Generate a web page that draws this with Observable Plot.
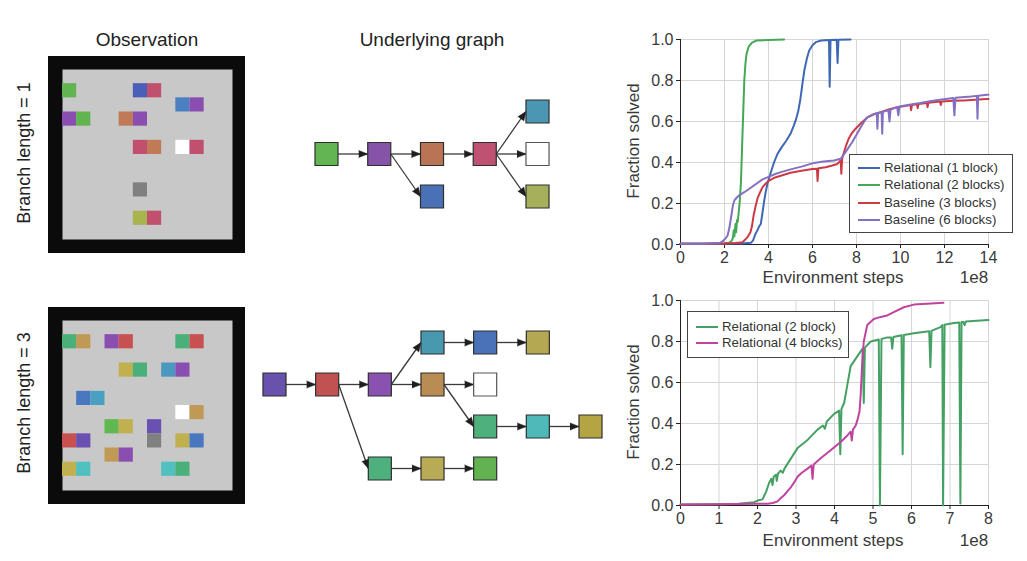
<!DOCTYPE html>
<html><head><meta charset="utf-8">
<script src="https://cdn.jsdelivr.net/npm/d3@7"></script>
<script src="https://cdn.jsdelivr.net/npm/@observablehq/plot@0.6"></script>
<style>
body{margin:0;background:#fff;font-family:"Liberation Sans",Arial,sans-serif;}
#root{position:relative;width:1027px;height:561px;overflow:hidden;background:#fff;}
.box{position:absolute;}
.box svg{max-width:none;}
.t{position:absolute;white-space:nowrap;color:#222;line-height:1;}
.rot{transform:translate(-50%,-50%) rotate(-90deg);}
.ctr{transform:translate(-50%,-50%);}
.legend{position:absolute;border:1.3px solid #444;background:#fff;box-sizing:border-box;font-size:13.3px;color:#333;}
.lrow{position:absolute;left:0;height:16px;line-height:16px;white-space:nowrap;}
.sw{position:absolute;height:2px;top:7px;}
.ltx{position:absolute;top:0;}
</style></head>
<body><div id="root"></div>
<script>
// ---------- Observation grids (col, row, colour) ----------
const obsCells1 = [
  [0,1,"#62b450"],[5,1,"#4a5fb8"],[6,1,"#c0506e"],[8,2,"#4a80c0"],[9,2,"#8a4db0"],
  [0,3,"#8a4db0"],[1,3,"#62b450"],[4,3,"#c07a55"],[5,3,"#8a4db0"],
  [5,5,"#c0506e"],[6,5,"#c07a55"],[8,5,"#ffffff"],[9,5,"#c0506e"],
  [5,8,"#808080"],[5,10,"#a8b44e"],[6,10,"#c0506e"]
];
const obsCells2 = [
  [0,1,"#48b078"],[1,1,"#c09a55"],[3,1,"#8a4db0"],[4,1,"#c85050"],[8,1,"#48b078"],[9,1,"#c85050"],
  [4,3,"#c0b050"],[5,3,"#48b078"],[7,3,"#4a98c0"],[8,3,"#8a4db0"],
  [1,5,"#4a78c0"],[2,5,"#4aa0c0"],[8,6,"#ffffff"],[9,6,"#c09a55"],
  [3,7,"#60b850"],[4,7,"#c0b050"],[6,7,"#6a50b0"],
  [0,8,"#c85050"],[1,8,"#6a50b0"],[6,8,"#808080"],[8,8,"#c0b050"],[9,8,"#4a78c0"],
  [3,9,"#c09a55"],[4,9,"#8a4db0"],[0,10,"#c0b050"],[1,10,"#50c0c0"],[7,10,"#50c0c0"],[8,10,"#48b078"]
];

// ---------- Underlying graphs (id, layer, lane, colour) ----------
const graphNodes1 = [
  ["a",0,1,"#63b553"],["b",1,1,"#8553a8"],["c",2,1,"#b97455"],["d",2,2,"#4a70b5"],
  ["e",3,1,"#bf5173"],["f",4,0,"#4b96b2"],["g",4,1,"#ffffff"],["h",4,2,"#a6b05a"]
];
const graphEdges1 = [["a","b"],["b","c"],["b","d"],["c","e"],["e","f"],["e","g"],["e","h"]];
const graphNodes2 = [
  ["A",0,1,"#6952ad"],["B",1,1,"#c05252"],["C",2,1,"#8a52b0"],["D",3,0,"#4898b0"],["E",4,0,"#4a72b8"],
  ["F",5,0,"#b5a852"],["G",3,1,"#b88c52"],["H",4,1,"#ffffff"],["I",4,2,"#4eb07c"],["J",5,2,"#4fb8b8"],
  ["K",6,2,"#b4a444"],["L",2,3,"#4eb07c"],["M",3,3,"#b9aa55"],["N",4,3,"#62b252"]
];
const graphEdges2 = [["A","B"],["B","C"],["B","L"],["C","D"],["C","G"],["D","E"],["E","F"],
  ["G","H"],["G","I"],["I","J"],["J","K"],["L","M"],["M","N"]];

// ---------- Top chart series: [steps (1e8), fraction solved] ----------
const relational1Block = [[0,0.004],[1,0.004],[2,0.005],[2.8,0.005],[3.2,0.008],[3.3,0.02],[3.4,0.05],[3.5,0.07],[3.58,0.09],[3.65,0.1],[3.72,0.15],[3.8,0.21],[3.88,0.26],[3.96,0.3],[4.1,0.35],[4.25,0.4],[4.4,0.44],[4.6,0.475],[4.8,0.505],[5.0,0.54],[5.15,0.58],[5.25,0.61],[5.35,0.65],[5.45,0.71],[5.55,0.79],[5.63,0.85],[5.75,0.91],[5.85,0.946],[6.0,0.972],[6.15,0.987],[6.4,0.995],[6.75,0.998],[6.78,0.77],[6.82,0.998],[7.1,0.999],[7.14,0.885],[7.18,0.999],[7.73,1.0]];
const relational2Blocks = [[0,0.004],[1,0.004],[2,0.005],[2.2,0.008],[2.3,0.015],[2.38,0.03],[2.42,0.07],[2.45,0.04],[2.5,0.1],[2.53,0.06],[2.57,0.12],[2.6,0.11],[2.65,0.16],[2.7,0.22],[2.75,0.31],[2.8,0.48],[2.85,0.64],[2.9,0.8],[2.95,0.88],[3.0,0.93],[3.1,0.965],[3.25,0.985],[3.45,0.995],[4.0,0.998],[4.71,1.0]];
const baseline3Blocks = [[0,0.004],[1,0.004],[2,0.005],[2.5,0.007],[2.82,0.011],[3.05,0.036],[3.18,0.06],[3.25,0.09],[3.32,0.14],[3.4,0.18],[3.5,0.225],[3.62,0.255],[3.73,0.28],[3.9,0.3],[4.03,0.312],[4.3,0.327],[4.56,0.335],[5.0,0.35],[5.5,0.36],[6.0,0.368],[6.2,0.37],[6.23,0.31],[6.27,0.372],[6.6,0.377],[6.9,0.385],[7.13,0.393],[7.28,0.41],[7.31,0.345],[7.35,0.42],[7.43,0.45],[7.55,0.49],[7.66,0.52],[7.8,0.545],[7.96,0.565],[8.19,0.59],[8.49,0.62],[8.8,0.635],[9.09,0.645],[9.5,0.66],[9.85,0.67],[10.2,0.675],[10.45,0.68],[10.48,0.655],[10.52,0.68],[10.75,0.684],[10.78,0.665],[10.82,0.685],[11.2,0.69],[11.23,0.67],[11.27,0.691],[11.8,0.697],[11.83,0.68],[11.87,0.698],[12.4,0.701],[12.87,0.703],[13.4,0.706],[13.9,0.71],[14,0.71]];
const baseline6Blocks = [[0,0.004],[1,0.004],[1.8,0.008],[1.92,0.016],[2.05,0.03],[2.14,0.044],[2.22,0.08],[2.3,0.133],[2.38,0.19],[2.45,0.215],[2.55,0.228],[2.67,0.24],[2.9,0.255],[3.13,0.272],[3.4,0.293],[3.73,0.318],[4.0,0.33],[4.34,0.345],[4.56,0.353],[5.09,0.369],[5.5,0.38],[6.07,0.398],[6.5,0.405],[6.98,0.41],[7.28,0.418],[7.5,0.45],[7.65,0.475],[7.81,0.5],[8.0,0.535],[8.19,0.572],[8.35,0.6],[8.49,0.62],[8.79,0.637],[8.92,0.64],[8.95,0.565],[8.98,0.642],[9.14,0.645],[9.17,0.54],[9.2,0.648],[9.45,0.655],[9.5,0.6],[9.55,0.658],[9.85,0.67],[9.9,0.63],[9.95,0.673],[10.4,0.682],[10.9,0.69],[11.4,0.7],[11.8,0.706],[12.4,0.715],[12.45,0.63],[12.5,0.716],[13.2,0.722],[13.47,0.725],[13.5,0.613],[13.53,0.726],[13.93,0.73],[14,0.73]];

// ---------- Bottom chart series ----------
const relational2BlockB = [[0,0.005],[1,0.006],[1.5,0.008],[1.92,0.016],[2.0,0.024],[2.13,0.03],[2.22,0.065],[2.3,0.11],[2.36,0.13],[2.39,0.1],[2.42,0.14],[2.48,0.15],[2.5,0.12],[2.53,0.155],[2.6,0.17],[2.66,0.16],[2.7,0.18],[2.87,0.23],[3.04,0.28],[3.3,0.32],[3.56,0.37],[3.7,0.39],[3.75,0.375],[3.8,0.41],[3.99,0.447],[4.12,0.463],[4.15,0.25],[4.18,0.47],[4.25,0.5],[4.33,0.585],[4.42,0.68],[4.6,0.73],[4.73,0.765],[4.76,0.5],[4.79,0.77],[4.94,0.8],[5.15,0.81],[5.18,0.0],[5.22,0.812],[5.37,0.82],[5.47,0.82],[5.5,0.765],[5.53,0.822],[5.74,0.83],[5.77,0.25],[5.8,0.832],[6.06,0.84],[6.46,0.85],[6.49,0.675],[6.52,0.852],[6.75,0.87],[6.8,0.88],[6.82,0.0],[6.86,0.882],[7.1,0.89],[7.24,0.893],[7.27,0.01],[7.3,0.895],[7.35,0.895],[7.38,0.88],[7.41,0.897],[7.6,0.9],[8.0,0.905]];
const relational4BlocksB = [[0,0.005],[1,0.006],[2,0.008],[2.26,0.009],[2.4,0.012],[2.52,0.02],[2.6,0.035],[2.69,0.05],[2.78,0.07],[2.87,0.09],[2.96,0.115],[3.04,0.14],[3.15,0.16],[3.3,0.18],[3.4,0.195],[3.43,0.13],[3.46,0.2],[3.64,0.23],[3.9,0.27],[4.16,0.31],[4.3,0.335],[4.42,0.36],[4.45,0.317],[4.48,0.37],[4.55,0.39],[4.6,0.42],[4.65,0.46],[4.68,0.54],[4.72,0.7],[4.76,0.8],[4.85,0.88],[5.02,0.91],[5.2,0.92],[5.37,0.927],[5.54,0.943],[5.8,0.967],[6.06,0.98],[6.4,0.984],[6.83,0.989]];

const topNames = ["Relational (1 block)","Relational (2 blocks)","Baseline (3 blocks)","Baseline (6 blocks)"];
const topColors = ["#3f68b3","#45a856","#cc3b44","#8470c2"];
const bottomNames = ["Relational (2 block)","Relational (4 blocks)"];
const bottomColors = ["#45a063","#c0449f"];
const topXTicks = [0,2,4,6,8,10,12,14];
const bottomXTicks = [0,1,2,3,4,5,6,7,8];
const yTicks = [0,0.2,0.4,0.6,0.8,1.0];

// ---------- helpers ----------
const root = document.getElementById("root");
function place(el, left, top){ const d=document.createElement("div"); d.className="box"; d.style.left=left+"px"; d.style.top=top+"px"; d.appendChild(el); root.appendChild(d); return d; }
function text(str, x, y, size, cls, extra){ const d=document.createElement("div"); d.className="t "+cls; d.textContent=str; d.style.left=x+"px"; d.style.top=y+"px"; d.style.fontSize=size+"px"; if(extra) Object.assign(d.style, extra); root.appendChild(d); return d; }

function obsGrid(cells){
  const data = cells.map(([c,r,color])=>({c,r,color}));
  return Plot.plot({
    width:197, height:197, marginLeft:14, marginRight:13, marginTop:13, marginBottom:14,
    x:{domain:[0,12], axis:null}, y:{domain:[0,12], axis:null, reverse:true},
    color:{type:"identity"},
    style:{background:"#0b0b0b", maxWidth:"none"},
    marks:[
      Plot.frame({fill:"#c8c8c8", stroke:null}),
      Plot.rect(data,{x1:"c", x2:d=>d.c+1, y1:"r", y2:d=>d.r+1, fill:"color"})
    ]
  });
}

const NODE_HALF = 11.5;
function graph(nodesArr, edgesArr, W, H, xr, yr, nLayers, nLanes){
  const nodes = nodesArr.map(([id,layer,lane,color])=>({id,layer,lane,color}));
  const byId = new Map(nodes.map(n=>[n.id,n]));
  const kx = (xr[1]-xr[0])/(nLayers-1), ky = (yr[1]-yr[0])/(nLanes-1);
  const h = NODE_HALF/kx;
  const E = edgesArr.map(([s,t])=>({s:byId.get(s), t:byId.get(t)}));
  const ang = e => Math.atan2((e.t.layer-e.s.layer-2*h)*kx, -(e.t.lane-e.s.lane)*ky)*180/Math.PI;
  return Plot.plot({
    width:W, height:H, margin:0,
    x:{domain:[0,nLayers-1], range:xr, axis:null},
    y:{domain:[0,nLanes-1], range:yr, axis:null},
    color:{type:"identity"},
    style:{background:"transparent", maxWidth:"none", overflow:"visible"},
    marks:[
      Plot.link(E,{x1:e=>e.s.layer+h, y1:e=>e.s.lane, x2:e=>e.t.layer-h, y2:e=>e.t.lane, stroke:"#3a3a3a", strokeWidth:1.3}),
      Plot.vector(E,{x:e=>e.t.layer-h, y:e=>e.t.lane, rotate:ang, length:9, r:3.6, shape:"spike", anchor:"end", fill:"#1e1e1e", stroke:"#1e1e1e", strokeWidth:0.5}),
      Plot.dot(nodes,{x:"layer", y:"lane", symbol:"square", r:13, fill:"color", stroke:d=>d.color==="#ffffff"?"#555":"#2f2f2f", strokeWidth:1.2})
    ]
  });
}

function chart(series, names, colors, xTicks){
  const xmax = xTicks[xTicks.length-1];
  const rows = [];
  series.forEach((s,i)=>s.forEach(([x,y])=>rows.push({x,y,name:names[i]})));
  return Plot.plot({
    width:417, height:270, marginLeft:70, marginRight:39, marginTop:19, marginBottom:46,
    x:{domain:[0,xmax]}, y:{domain:[0,1]},
    color:{domain:names, range:colors},
    style:{background:"transparent", maxWidth:"none", overflow:"visible", fontFamily:"'Liberation Sans', Arial, sans-serif", fontSize:"16px", color:"#3a3a3a"},
    marks:[
      Plot.gridX(xTicks,{stroke:"#d6d6d6", strokeOpacity:1, strokeWidth:1}),
      Plot.gridY(yTicks,{stroke:"#d6d6d6", strokeOpacity:1, strokeWidth:1}),
      Plot.axisX(xTicks,{tickSize:4, tickPadding:3, label:null, fontSize:16, stroke:"#222"}),
      Plot.axisY(yTicks,{tickSize:4, tickPadding:3, label:null, fontSize:16, stroke:"#222", tickFormat:d3.format(".1f")}),
      Plot.ruleY([0],{stroke:"#222", strokeWidth:1}),
      Plot.ruleX([0],{stroke:"#222", strokeWidth:1}),
      Plot.line(rows,{x:"x", y:"y", z:"name", stroke:"name", strokeWidth:2, strokeLinejoin:"round"})
    ]
  });
}

function legend(names, colors, left, top, w, h, rowTop, rowStep, swX, swW, txX){
  const box=document.createElement("div"); box.className="legend";
  Object.assign(box.style,{left:left+"px", top:top+"px", width:w+"px", height:h+"px"});
  names.forEach((n,i)=>{
    const r=document.createElement("div"); r.className="lrow"; r.style.top=(rowTop+i*rowStep-8)+"px";
    const sw=document.createElement("div"); sw.className="sw"; Object.assign(sw.style,{left:swX+"px", width:swW+"px", background:colors[i]});
    const tx=document.createElement("div"); tx.className="ltx"; tx.style.left=txX+"px"; tx.textContent=n;
    r.appendChild(sw); r.appendChild(tx); box.appendChild(r);
  });
  root.appendChild(box);
}

// ---------- left side ----------
text("Observation",147,39,19,"ctr");
text("Underlying graph",432,39,19,"ctr");
text("Branch length = 1",24,153,18,"rot");
text("Branch length = 3",24,403,18,"rot");
place(obsGrid(obsCells1),48,56);
place(obsGrid(obsCells2),48,307);
place(graph(graphNodes1,graphEdges1,260,140,[26,237],[31,116],5,3),300,80);
place(graph(graphNodes2,graphEdges2,360,180,[24,340],[32,158],7,4),250,310);

// ---------- right side ----------
place(chart([relational1Block,relational2Blocks,baseline3Blocks,baseline6Blocks],topNames,topColors,topXTicks),610,20);
place(chart([relational2BlockB,relational4BlocksB],bottomNames,bottomColors,bottomXTicks),610,281);
const axc = {color:"#3a3a3a"};
text("Fraction solved",633,141,17,"rot",axc);
text("Fraction solved",633,402,17,"rot",axc);
text("Environment steps",833,277,17,"ctr",axc);
text("Environment steps",833,540,17,"ctr",axc);
text("1e8",974,277,17,"ctr",axc);
text("1e8",974,540,17,"ctr",axc);
legend(topNames,topColors,849,154,164,79,13,17.3,8,22,34);
legend(bottomNames,bottomColors,687,311,162,47,15,15.5,8,22,34);
</script></body></html>
